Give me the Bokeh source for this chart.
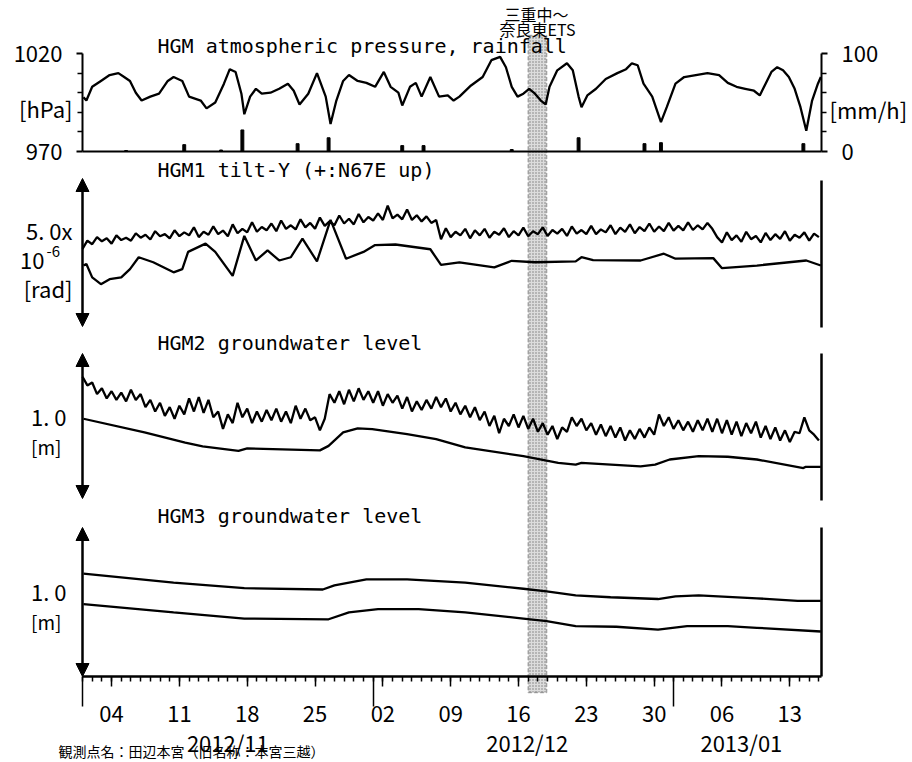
from datetime import datetime
from bokeh.plotting import figure
from bokeh.models import (Range1d, LinearAxis, FixedTicker, Label, Arrow,
                          NormalHead, BoxAnnotation)
from bokeh.embed import file_html
from bokeh.resources import INLINE

# ---------------- data (x = days since 2012-11-01 00:00) ----------------
pres_day = [0.1, 0.4, 1.0, 1.9, 2.8, 3.7, 4.3, 4.9, 5.5, 6.1,
            7.0, 7.9, 8.8, 9.4, 10.3, 11.0, 12.2, 12.8, 13.7, 14.6,
            15.2, 15.8, 16.4, 16.7, 17.3, 17.9, 18.5, 19.4, 20.3, 21.2,
            21.8, 22.4, 23.3, 24.2, 25.1, 25.6, 26.2, 26.9, 27.5, 28.4,
            29.3, 30.2, 31.1, 31.8, 32.6, 33.0, 33.8, 34.4, 35.0, 35.9,
            36.8, 37.7, 38.3, 38.9, 40.1, 41.3, 42.2, 43.1, 43.7, 44.3,
            44.9, 45.5, 46.1, 46.7, 47.3, 47.8, 48.2, 49.0, 50.0, 50.6,
            51.2, 51.5, 52.1, 53.0, 54.0, 55.2, 56.1, 56.7, 57.3, 57.9,
            58.8, 59.7, 60.3, 61.2, 62.1, 63.3, 64.5, 65.7, 66.6, 67.5,
            68.4, 69.3, 69.9, 70.5, 71.1, 71.7, 72.3, 72.9, 73.5, 74.1,
            74.7, 75.3, 75.9, 76.2]
pres_hpa = [997.7, 996, 1003, 1006, 1009, 1010, 1008, 1006, 1000, 996,
            998, 999.5, 1006, 1008, 1006, 998, 996, 992, 995, 1004.6,
            1012, 1010.6, 999.5, 989, 998, 1002, 999.5, 1000, 1002, 1004.6,
            1001, 994, 999.5, 1010, 998, 984, 996, 1006, 1009, 1006,
            1005, 1003, 1010.6, 1003, 1000, 993.5, 1003, 1005, 998, 1008,
            998, 998.6, 996, 998, 1003.7, 1008, 1016.6, 1018.3, 1013, 1003,
            998, 999.5, 1002, 999.5, 996, 994, 1003, 1011.4, 1015, 1011.4,
            998, 992.6, 998.6, 1002, 1007, 1010, 1012, 1015, 1014, 1004.6,
            998, 985, 992.6, 1004.6, 1008, 1009, 1010, 1009, 1005, 1003,
            1002, 1001, 998.6, 1004.6, 1010.6, 1013, 1011.4, 1008, 1002, 992.6,
            980.6, 996, 1004.6, 1008]

rain_day = [4.5, 10.5, 14.3, 16.5, 22.2, 25.4, 33.0, 35.2, 44.3, 51.2, 58.0, 59.7, 74.4]
rain_mmh = [1, 7, 1.5, 22, 8, 14, 6, 6, 2, 14, 8, 9, 8]

# HGM1 tilt-Y, two traces [1e-6 rad]; upper trace read every half day
half_days = [i / 2 for i in range(153)]
tilt_a = [2.62, 2.90, 2.78, 3.02, 2.88, 2.98, 2.80, 3.08, 2.92, 3.00,
          2.90, 3.15, 3.00, 3.10, 2.94, 3.22, 3.05, 3.12, 2.98, 3.25,
          3.05, 3.18, 3.08, 3.35, 3.02, 3.20, 3.10, 3.38, 3.12, 3.24,
          3.05, 3.45, 3.15, 3.30, 3.18, 3.52, 3.20, 3.36, 3.25, 3.48,
          3.22, 3.58, 3.30, 3.42, 3.28, 3.62, 3.35, 3.50, 3.30, 3.68,
          3.40, 3.55, 3.42, 3.75, 3.48, 3.64, 3.45, 3.80, 3.52, 3.70,
          3.58, 3.82, 3.60, 4.08, 3.65, 3.78, 3.62, 3.95, 3.60, 3.76,
          3.55, 3.72, 3.50, 3.60,
          2.95, 3.32, 3.02, 3.20, 3.08, 3.30,
          2.98, 3.25, 3.08, 3.30, 3.00, 3.20, 3.10, 3.32, 3.02, 3.22,
          3.08, 3.34, 3.05, 3.22, 3.12, 3.35, 3.06, 3.26, 3.14, 3.30,
          3.06, 3.38, 3.14, 3.26, 3.12, 3.40, 3.12, 3.28, 3.18, 3.42,
          3.12, 3.34, 3.20, 3.45, 3.15, 3.36, 3.22, 3.48, 3.20, 3.38,
          3.22, 3.50, 3.24, 3.40, 3.25, 3.52, 3.26, 3.42, 3.28, 3.50,
          3.30, 3.02,
          2.84, 3.18, 2.92, 3.08, 2.86, 3.20, 2.95, 3.06, 2.84, 3.16,
          2.92, 3.12, 2.96, 3.22, 2.90, 3.10, 3.00, 3.18, 2.90, 3.14,
          3.02]
tilt_b_day = [0.1, 0.4, 1.0, 1.9, 2.8, 4.0, 4.9, 5.8, 7.3, 9.4,
              10.3, 10.9, 12.7, 13.7, 15.5, 16.7, 17.9, 19.1, 20.3, 21.5,
              22.7, 24.2, 25.6, 27.2, 29.0, 30.2, 32.3, 35.9, 37.0, 38.9,
              42.5, 44.3, 46.7, 50.9, 51.5, 52.7, 57.6, 60.0, 61.2, 65.1,
              66.0, 69.6, 74.7, 76.2]
tilt_b = [2.06, 2.11, 1.66, 1.43, 1.60, 1.66, 1.94, 2.34, 2.17, 1.83,
          1.94, 2.52, 2.80, 2.52, 1.71, 3.06, 2.23, 2.57, 2.23, 2.34,
          2.97, 2.20, 3.60, 2.29, 2.52, 2.75, 2.77, 2.61, 2.08, 2.17,
          2.00, 2.22, 2.17, 2.20, 2.34, 2.24, 2.23, 2.46, 2.29, 2.31,
          1.97, 2.06, 2.23, 2.06]

# HGM2 groundwater level [m]; upper trace read every half day
gw2_a = [0.84, 0.78, 0.80, 0.72, 0.76, 0.69, 0.74, 0.68, 0.73, 0.67,
         0.75, 0.68, 0.72, 0.63, 0.68, 0.60, 0.66, 0.57, 0.63, 0.55,
         0.64, 0.58, 0.69, 0.60, 0.70, 0.59, 0.68, 0.56, 0.60, 0.48,
         0.58, 0.52, 0.66, 0.56, 0.62, 0.52, 0.60, 0.53, 0.61, 0.54,
         0.62, 0.53, 0.60, 0.52, 0.64, 0.55, 0.62, 0.54, 0.56, 0.47,
         0.55, 0.72, 0.66, 0.74, 0.65, 0.75, 0.67, 0.76, 0.68, 0.74,
         0.66, 0.74, 0.64, 0.72, 0.66, 0.71, 0.62, 0.70, 0.60, 0.67,
         0.61, 0.68, 0.62, 0.70, 0.63, 0.69, 0.60, 0.66, 0.58, 0.64,
         0.56, 0.63, 0.54, 0.60, 0.50, 0.57, 0.45, 0.55, 0.50, 0.58,
         0.49, 0.57, 0.48, 0.55, 0.46, 0.52, 0.44, 0.50, 0.41, 0.49,
         0.46, 0.56, 0.50, 0.55, 0.47, 0.52, 0.44, 0.51, 0.43, 0.50,
         0.42, 0.49, 0.40, 0.47, 0.41, 0.48, 0.42, 0.49, 0.44, 0.58,
         0.50, 0.56, 0.48, 0.54, 0.47, 0.53, 0.46, 0.54, 0.47, 0.55,
         0.46, 0.55, 0.45, 0.54, 0.44, 0.53, 0.43, 0.52, 0.45, 0.53,
         0.42, 0.50, 0.41, 0.49, 0.40, 0.47, 0.39, 0.46, 0.45, 0.56,
         0.47, 0.44, 0.40]
gw2_b_day = [0.1, 6.4, 10.6, 12.4, 16.1, 17.0, 24.5, 25.4, 26.9, 28.4,
             29.9, 33.5, 36.5, 39.5, 45.5, 49.1, 50.9, 51.5, 57.6, 59.1,
             60.6, 63.6, 66.6, 69.6, 74.4, 74.6, 76.2]
gw2_b = [0.55, 0.456, 0.386, 0.359, 0.328, 0.345, 0.332, 0.363, 0.456, 0.484,
         0.479, 0.444, 0.410, 0.352, 0.292, 0.246, 0.234, 0.246, 0.222, 0.234,
         0.269, 0.292, 0.288, 0.269, 0.210, 0.218, 0.218]

# HGM3 groundwater level [m]
gw3_a_day = [0.1, 9.4, 16.7, 24.8, 26.0, 29.3, 33.5, 39.5, 45.5, 47.9,
             50.9, 54.5, 59.4, 61.2, 63.6, 69.6, 73.8, 76.2]
gw3_a = [0.691, 0.630, 0.593, 0.584, 0.611, 0.652, 0.652, 0.630, 0.589, 0.572,
         0.544, 0.532, 0.520, 0.538, 0.544, 0.525, 0.507, 0.507]
gw3_b_day = [0.1, 9.4, 16.7, 25.4, 27.5, 30.5, 34.7, 39.5, 45.5, 47.9,
             50.9, 55.1, 59.4, 62.4, 66.6, 69.6, 76.2]
gw3_b = [0.486, 0.430, 0.389, 0.384, 0.430, 0.452, 0.452, 0.430, 0.389, 0.372,
         0.338, 0.334, 0.315, 0.338, 0.338, 0.327, 0.302]

# ETS period (days)
ets_start_day, ets_end_day = 46.0, 47.9

# ticks
week_days = [3, 10, 17, 24, 31, 38, 45, 52, 59, 66, 73]
week_labels = ["04", "11", "18", "25", "02", "09", "16", "23", "30", "06", "13"]
month_start_days = [0, 30, 61]
month_label_days = [15.0, 45.9, 68.0]
month_labels = ["2012/11", "2012/12", "2013/01"]

# ---------------- layout helpers ----------------
W, H = 912, 762
T0 = datetime(2012, 11, 1)
EPOCH = datetime(1970, 1, 1)
T0_MS = (T0 - EPOCH).total_seconds() * 1000.0
DAY_MS = 86400000.0


def ms(days):
    return [T0_MS + d * DAY_MS for d in days]


X_LEFT_PX, X_RIGHT_PX = 82, 821      # pixel position of the data window edges
X_END_DAYS = 76.27
PPD = (X_RIGHT_PX - X_LEFT_PX) / X_END_DAYS
X_LAST = T0_MS + X_END_DAYS * DAY_MS


def span_range(v_hi, px_hi, v_lo, px_lo):
    s = (v_hi - v_lo) / (px_lo - px_hi)
    return Range1d(start=v_lo - (H - px_lo) * s, end=v_hi + px_hi * s)


NUM = "Noto Sans CJK JP"
MONO = "DejaVu Sans Mono"
CJK = "Noto Sans CJK JP"

x_range = Range1d(start=T0_MS - X_LEFT_PX / PPD * DAY_MS,
                  end=T0_MS + (W - X_LEFT_PX) / PPD * DAY_MS)
p = figure(width=W, height=H, x_range=x_range, y_range=Range1d(start=H, end=0),
           x_axis_location=None, y_axis_location=None,
           output_backend="svg", toolbar_location=None,
           min_border=0, min_border_left=0, min_border_right=0,
           min_border_top=0, min_border_bottom=0)
p.extra_y_ranges = {
    "pres": span_range(1020, 53, 970, 151),
    "rain": span_range(100, 53, 0, 151),
    "tilt": span_range(5.0, 178, 0.0, 326),
    "gw2": span_range(1.0, 353, 0.0, 498),
    "gw3": span_range(1.0, 527, 0.0, 676),
}
p.extra_x_ranges = {"px": Range1d(start=0, end=W)}
p.grid.visible = False
p.outline_line_color = None
p.background_fill_color = "white"
p.border_fill_color = "white"

# ETS band
p.add_layout(BoxAnnotation(left=ms([ets_start_day])[0], right=ms([ets_end_day])[0],
                           top=35, bottom=692,
                           fill_color="#dcdcdc", fill_alpha=1.0,
                           hatch_pattern=".", hatch_color="#7a7a7a", hatch_scale=3,
                           line_color="black", line_dash="4 2", line_width=1.5,
                           level="underlay"))

LW = 2.3
# pressure and rainfall
p.line(ms(pres_day), pres_hpa, y_range_name="pres", line_color="black", line_width=LW)
p.vbar(x=ms(rain_day), top=rain_mmh, bottom=0, width=0.3 * DAY_MS,
       y_range_name="rain", color="black")
p.segment(x0=[T0_MS], y0=[0], x1=[X_LAST], y1=[0], y_range_name="rain",
          line_color="black", line_width=2)

# tilt
p.line(ms(half_days), tilt_a, y_range_name="tilt", line_color="black", line_width=LW)
p.line(ms(tilt_b_day), tilt_b, y_range_name="tilt", line_color="black", line_width=LW)
# groundwater
p.line(ms(half_days), gw2_a, y_range_name="gw2", line_color="black", line_width=LW)
p.line(ms(gw2_b_day), gw2_b, y_range_name="gw2", line_color="black", line_width=LW)
p.line(ms(gw3_a_day), gw3_a, y_range_name="gw3", line_color="black", line_width=LW)
p.line(ms(gw3_b_day), gw3_b, y_range_name="gw3", line_color="black", line_width=LW)

# pressure axis (left) and rainfall axis (right)
ax_p = LinearAxis(y_range_name="pres", fixed_location=T0_MS, bounds=(970, 1020),
                  ticker=FixedTicker(ticks=[970, 1020], minor_ticks=[980, 990, 1000, 1010]))
ax_r = LinearAxis(y_range_name="rain", fixed_location=X_LAST, bounds=(0, 100),
                  ticker=FixedTicker(ticks=[0, 100], minor_ticks=[20, 40, 60, 80]))
for ax in (ax_p, ax_r):
    ax.axis_line_width = 2
    ax.major_tick_line_width = 2
    ax.minor_tick_line_width = 1.5
    ax.major_tick_out = 6
    ax.major_tick_in = 0
    ax.minor_tick_out = 5
    ax.minor_tick_in = 0
    ax.major_label_standoff = 14
    ax.major_label_text_font = NUM
    ax.major_label_text_font_size = "22px"
    ax.major_label_text_color = "black"
p.add_layout(ax_p, "left")
p.add_layout(ax_r, "right")

# time axis: weekly labelled ticks, daily minor ticks
ax_t = LinearAxis(fixed_location=676, bounds=(T0_MS, X_LAST),
                  ticker=FixedTicker(ticks=ms(week_days), minor_ticks=ms(list(range(0, 77)))),
                  major_label_overrides={int(t): lab for t, lab in zip(ms(week_days), week_labels)})
ax_t.axis_line_width = 2.5
ax_t.major_tick_out = 10
ax_t.major_tick_in = 0
ax_t.minor_tick_out = 5
ax_t.minor_tick_in = 0
ax_t.major_tick_line_width = 1.5
ax_t.minor_tick_line_width = 1.5
ax_t.major_label_standoff = 19
ax_t.major_label_text_font = NUM
ax_t.major_label_text_font_size = "22px"
ax_t.major_label_text_color = "black"
p.add_layout(ax_t, "below")

# month boundary long ticks
ax_mt = LinearAxis(fixed_location=676,
                   ticker=FixedTicker(ticks=ms(month_start_days), minor_ticks=[]),
                   major_label_overrides={int(t): "" for t in ms(month_start_days)})
ax_mt.axis_line_color = None
ax_mt.major_tick_out = 30
ax_mt.major_tick_in = 0
ax_mt.major_tick_line_width = 1.5
ax_mt.minor_tick_line_color = None
p.add_layout(ax_mt, "below")

# month labels
ax_m = LinearAxis(fixed_location=676,
                  ticker=FixedTicker(ticks=ms(month_label_days), minor_ticks=[]),
                  major_label_overrides={int(t): lab for t, lab in zip(ms(month_label_days), month_labels)})
ax_m.axis_line_color = None
ax_m.major_tick_line_color = None
ax_m.minor_tick_line_color = None
ax_m.major_tick_out = 0
ax_m.major_tick_in = 0
ax_m.minor_tick_out = 0
ax_m.major_label_standoff = 49
ax_m.major_label_text_font = NUM
ax_m.major_label_text_font_size = "22px"
ax_m.major_label_text_color = "black"
p.add_layout(ax_m, "below")

# double-headed scale arrows (left) and right frame lines
for rng, lo, hi in (("tilt", 0.0, 5.0), ("gw2", 0.0, 1.0), ("gw3", 0.0, 1.0)):
    p.add_layout(Arrow(x_start=T0_MS, x_end=T0_MS, y_start=lo, y_end=hi, y_range_name=rng,
                       start=NormalHead(size=13, fill_color="black", line_color="black"),
                       end=NormalHead(size=13, fill_color="black", line_color="black"),
                       line_width=2.5, line_color="black"))
for y0, y1 in ((180, 327), (353, 500), (527, 676)):
    p.add_layout(Arrow(x_start=X_LAST, x_end=X_LAST, y_start=y0, y_end=y1,
                       start=None, end=None, line_width=2.5, line_color="black"))


def txt(s, x, y, size, font, align="left"):
    p.add_layout(Label(x=x, y=y, x_range_name="px", text=s,
                       text_font=font, text_font_size=f"{size}px", text_color="black",
                       text_align=align, text_baseline="middle"))


# panel titles
txt("HGM atmospheric pressure, rainfall", 157, 45, 20, MONO)
txt("HGM1 tilt-Y (+:N67E up)", 157, 169, 20, MONO)
txt("HGM2 groundwater level", 157, 342, 20, MONO)
txt("HGM3 groundwater level", 157, 515, 20, MONO)

# unit / scale labels
txt("[hPa]", 72, 107, 22, NUM, "right")
txt("[mm/h]", 829, 108, 22, NUM)
txt("5. 0x", 72, 229, 22, NUM, "right")
txt("10", 44, 260, 22, NUM, "right")
txt("-6", 46, 251, 15, NUM)
txt("[rad]", 72, 287, 22, NUM, "right")
txt("1. 0", 66, 415, 22, NUM, "right")
txt("[m]", 61, 446, 19, NUM, "right")
txt("1. 0", 66, 590, 22, NUM, "right")
txt("[m]", 61, 621, 19, NUM, "right")

# ETS annotation
txt("三重中～", 536, 13, 16, CJK, "center")
txt("奈良東ETS", 537, 28, 16, CJK, "center")

# footer (cut off at the bottom of the original page)
txt("観測点名：田辺本宮（旧名称：本宮三越）", 58, 750, 14, CJK)

open("out.html", "w").write(file_html(p, INLINE))
